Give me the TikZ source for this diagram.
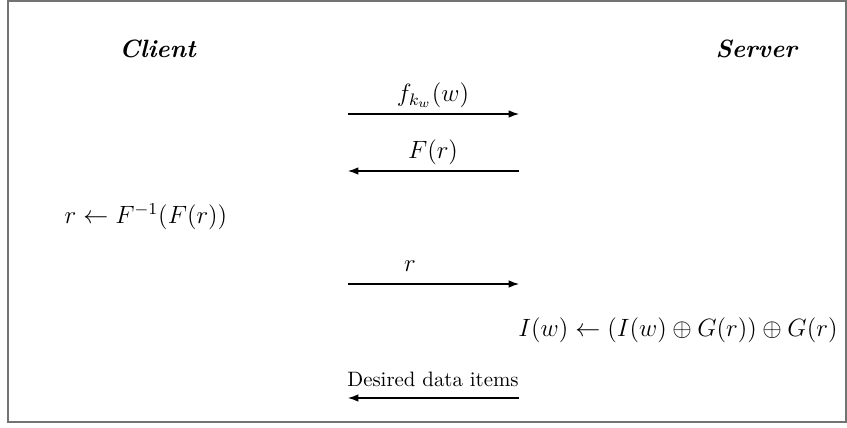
\documentclass[tikz,border=0pt]{standalone}
\usetikzlibrary{arrows.meta}
\begin{document}
\begin{tikzpicture}[x=0.48pt,y=-0.48pt,
  msg/.style={line width=0.5pt,-{Latex[length=5pt,width=3.6pt]}},
  lbl/.style={inner sep=0pt,anchor=base,font=\large},
  frame/.style={draw=black!55,line width=0.8pt}]
\useasboundingbox (0,0) rectangle (847,428);
\draw[frame] (8,1) rectangle (846,422);
\node[lbl] (client) at (158,58) {\textbf{\textit{Client}}};
\node[lbl] (server) at (757,58) {\textbf{\textit{Server}}};
% arrow 1
\coordinate (a1l) at (348,114); \coordinate (a1r) at (519,114);
\draw[msg] (a1l) -- (a1r);
\node[lbl] (l1) at (433,102) {$f_{k_w}(w)$};
% arrow 2
\coordinate (a2l) at (348,171); \coordinate (a2r) at (519,171);
\draw[msg] (a2r) -- (a2l);
\node[lbl] (l2) at (433,159) {$F(r)$};
% client computation
\node[lbl] (cc) at (146,224) {$r \leftarrow F^{-1}(F(r))$};
% arrow 3
\coordinate (a3l) at (348,284); \coordinate (a3r) at (519,284);
\draw[msg] (a3l) -- (a3r);
\node[lbl] (l3) at (410,271) {$r$};
% server computation
\node[lbl] (sc) at (678,337) {$I(w) \leftarrow (I(w)\oplus G(r))\oplus G(r)$};
% arrow 4
\coordinate (a4l) at (348,398); \coordinate (a4r) at (519,398);
\draw[msg] (a4r) -- (a4l);
\node[lbl,font=\normalsize] (l4) at (433,386) {Desired data items};
\end{tikzpicture}
\end{document}
